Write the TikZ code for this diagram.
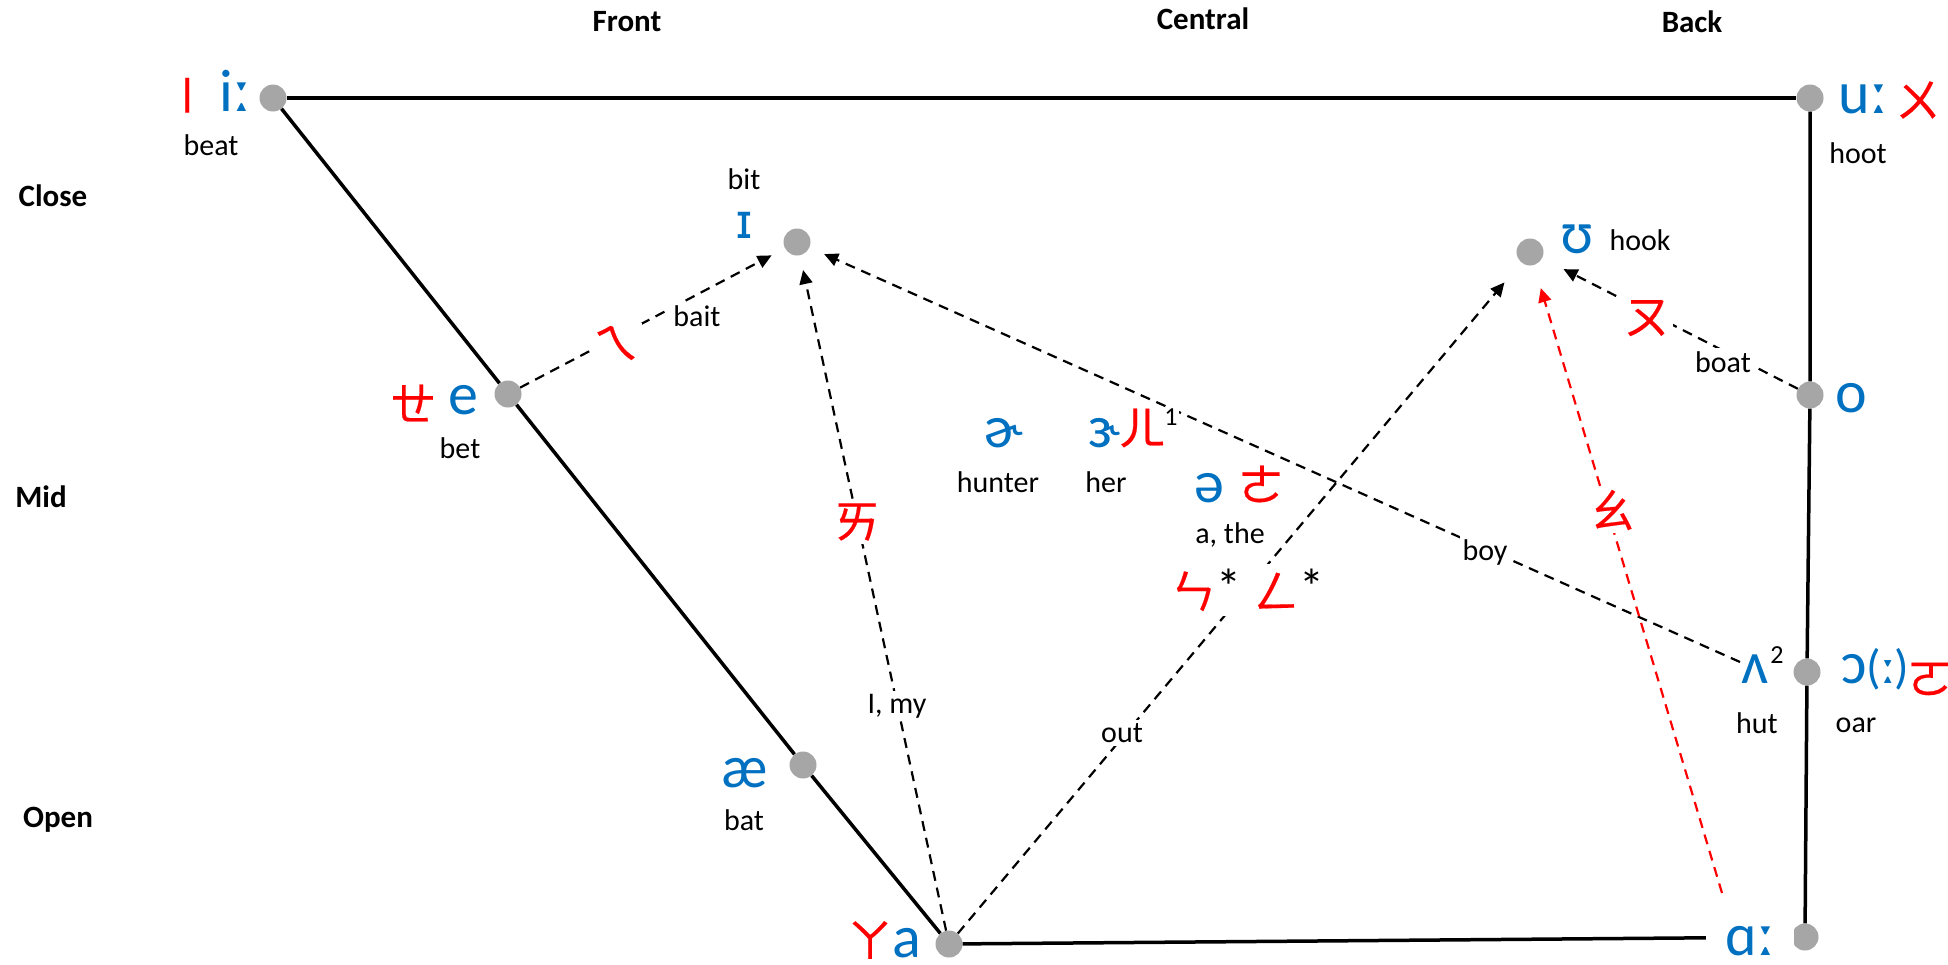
\documentclass[tikz,border=0pt]{standalone}
\usepackage{fontspec}
\setmainfont{Carlito}
\newfontfamily\cjk{Noto Sans CJK TC}[FakeBold=0.4]
\newfontfamily\ipb{DejaVu Sans}
\usetikzlibrary{arrows.meta}
\definecolor{ipablue}{RGB}{0,112,192}
\definecolor{dotgray}{RGB}{166,166,166}
\newcommand\lblf{\fontsize{30}{34}\selectfont}
\newcommand\astf{\fontsize{50}{54}\selectfont}
\newcommand\bpmf{\cjk\fontsize{46}{50}\selectfont}
\begin{document}
\begin{tikzpicture}[x=1pt,y=-1pt,
 dot/.style={circle,fill=dotgray,minimum size=27pt,inner sep=0pt},
 ipa/.style={text=ipablue,font=\fontsize{60}{64}\selectfont,inner sep=0pt,anchor=base},
 bpm/.style={text=red,font=\bpmf,inner sep=0pt},
 lbl/.style={font=\lblf,inner sep=0pt,anchor=base},
 olbl/.style={font=\lblf,inner sep=2pt},
 sup/.style={font=\fontsize{26}{30}\selectfont,inner sep=1pt},
 hdr/.style={font=\bfseries\fontsize{31}{36}\selectfont,inner sep=0pt},
 edge/.style={line width=3.5pt},
 dsh/.style={line width=2.2pt,dash pattern=on 10pt off 7pt,-{Triangle[length=14pt,width=13pt]}},
 onl/.style={fill=white,inner sep=3pt}
]
\useasboundingbox (0,0) rectangle (1948,964);
% dots
\node[dot] (i) at (273,98) {};
\node[dot] (u) at (1810,98) {};
\node[dot] (I) at (797,242) {};
\node[dot] (U) at (1530,252) {};
\node[dot] (e) at (508,394) {};
\node[dot] (o) at (1810,395) {};
\node[dot] (O) at (1807,672) {};
\node[dot] (ae) at (803,765) {};
\node[dot] (a) at (949,944) {};
\node[dot] (A) at (1805,937) {};
\coordinate (vs) at (1740,662);
\coordinate (rs) at (1722,893);
% solid frame
\draw[edge] (i) -- (u);
\draw[edge] (i) -- (e) -- (ae) -- (a);
\draw[edge] (a) -- (A);
\draw[edge] (u) -- (o) -- (O) -- (A);
% dashed arrows
\draw[dsh,shorten >=15pt] (e) -- (I);
\draw[dsh,shorten >=15pt] (a) -- (I);
\draw[dsh,shorten >=26pt] (a) -- (U);
\draw[dsh,shorten >=16pt] (vs) -- (I);
\draw[dsh,shorten >=24pt] (o) -- (U);
\draw[dsh,red,shorten >=24pt] (rs) -- (U);
% headers
\node[hdr] (hf) at (627,22) {Front};
\node[hdr] (hc) at (1203,19) {Central};
\node[hdr] (hb) at (1692,22) {Back};
\node[hdr] (hcl) at (53,196) {Close};
\node[hdr] (hm) at (41,497) {Mid};
\node[hdr] (ho) at (58,820) {Open};
% vowel labels
\node[ipa] (ti) at (235,111) {iː};
\node[bpm,rotate=90] (bi) at (195,95) {ㄧ};
\node[lbl] (wi) at (211,155) {beat};
\node[ipa] (tu) at (1863,113) {uː};
\node[bpm] (bu) at (1918,100) {ㄨ};
\node[lbl] (wu) at (1858,163) {hoot};
\node[lbl] (wI) at (744,189) {bit};
\node[ipa,font=\ipb\fontsize{48}{52}\selectfont] (tI) at (744,238) {ɪ};
\node[ipa] (tU) at (1577,253) {ʊ};
\node[lbl] (wU) at (1640,250) {hook};
\node[bpm] (be) at (413,403) {ㄝ};
\node[ipa] (te) at (463,414) {e};
\node[lbl] (we) at (460,458) {bet};
\node[ipa] (to) at (1851,412) {o};
\node[ipa] (tr1) at (1004,447) {ɚ};
\node[lbl] (wr1) at (998,492) {hunter};
\node[ipa] (tr2) at (1104,447) {ɝ};
\node[bpm] (br) at (1142,428) {ㄦ};
\node[sup,onl,inner sep=1pt] (n1) at (1171,417) {1};
\node[lbl] (wr2) at (1106,492) {her};
\node[ipa] (ts) at (1209,502) {ə};
\node[bpm] (bs) at (1261,484) {ㄜ};
\node[lbl] (ws) at (1230,543) {a, the};
\node[onl,inner sep=5pt] (nas) at (1247,590) {\textcolor{red}{\bpmf ㄣ}\raisebox{4pt}{\astf *}\hspace{12pt}\textcolor{red}{\bpmf ㄥ}\raisebox{4pt}{\astf *}};
\node[ipa] (tv) at (1755,683) {ʌ};
\node[sup] (n2) at (1777,655) {2};
\node[lbl] (wv) at (1757,733) {hut};
\node[ipa,anchor=base west] (tO) at (1841,683) {ɔ{\fontsize{48}{52}\selectfont(ː)}};
\node[bpm] (bO) at (1930,679) {ㄛ};
\node[lbl] (wO) at (1856,732) {oar};
\node[ipa] (tae) at (745,787) {æ};
\node[lbl] (wae) at (744,830) {bat};
\node[bpm] (ba) at (870,940) {ㄚ};
\node[ipa] (ta) at (907,957) {a};
\node[ipa,fill=white,inner xsep=20pt,inner ysep=2pt] (tA) at (1750,955) {ɑː};
% labels on connectors
\node[bpm,onl] (lei) at (616,343) {ㄟ};
\node[olbl,onl] (lbait) at (697,316) {bait};
\node[bpm,onl] (lai) at (857,522) {ㄞ};
\node[olbl,onl] (lmy) at (897,706) {I, my};
\node[olbl,onl] (lout) at (1122,733) {out};
\node[olbl,onl] (lboy) at (1485,552) {boy};
\node[bpm,onl] (lou) at (1647,318) {ㄡ};
\node[olbl,onl] (lboat) at (1723,362) {boat};
\node[bpm,onl] (lao) at (1612,510) {ㄠ};
\end{tikzpicture}
\end{document}
